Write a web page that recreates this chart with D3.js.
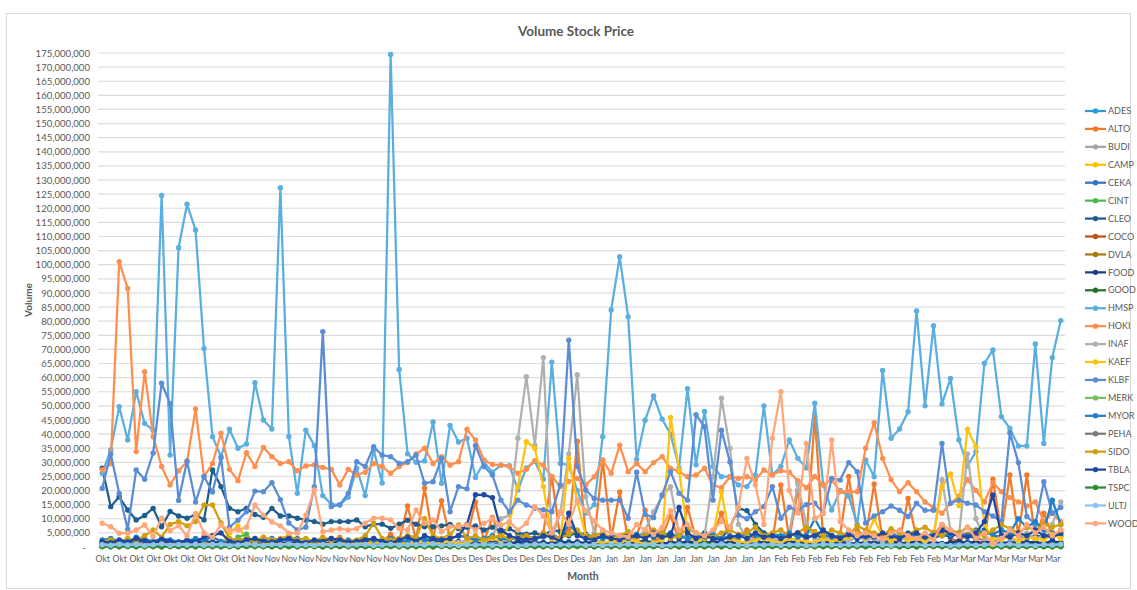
<!DOCTYPE html>
<html>
<head>
<meta charset="utf-8">
<script src="https://cdn.jsdelivr.net/npm/d3@7"></script>
<style>
  body { margin: 0; background: #fff; }
  svg text { font-family: Lato, "Open Sans", sans-serif; fill: #595959; }
</style>
</head>
<body>
<svg id="chart" width="1137" height="590"></svg>
<script>
// volumes below are in millions of shares
const UNIT = 1e6;

const months = ['Okt', 'Nov', 'Des', 'Jan', 'Feb', 'Mar'];
const monthDays = [18, 20, 20, 22, 20, 14];

const tickers = ['ADES','ALTO','BUDI','CAMP','CEKA','CINT','CLEO','COCO','DVLA','FOOD','GOOD','HMSP',
  'HOKI','INAF','KAEF','KLBF','MERK','MYOR','PEHA','SIDO','TBLA','TSPC','ULTJ','WOOD'];
const colors = ['#2e9bda','#f37a2a','#a5a5a5','#ffc000','#3373c4','#4db84e','#1e5e8e','#c0501a','#a67a0c',
  '#1f3e7c','#2a6e2e','#5baee0','#ff8f4e','#b0b0b0','#ffc20e','#5a8dd6','#72c25e','#1f80c8','#7a7a7a',
  '#d1a10d','#1f48a0','#2e8b35','#8cc4ec','#ffa77a'];

const ADES = [1.0,1.5,0.8,1.2,2.0,1.0,1.5,0.9,1.2,1.8, 1.0,1.3,0.9,2.0,1.5,1.0,1.2,1.8,1.0,1.4,
  0.9,1.5,1.2,1.0,1.8,1.2,0.9,1.5,1.1,1.3, 1.0,1.5,2.0,1.2,1.0,1.6,1.3,1.0,1.5,1.2,
  1.8,1.0,1.5,2.0,1.2,1.0,1.6,1.3,1.0,1.5, 1.2,1.8,1.0,1.5,1.3,2.0,1.2,1.0,1.5,1.1,
  1.3,1.0,1.6,1.2,1.8,1.0,1.4,1.2,1.0,1.5, 1.2,1.0,1.8,1.3,1.0,1.5,1.2,1.6,1.0,1.3,
  1.5,1.0,1.8,1.2,1.4,1.0,1.6,1.3,1.1,1.5, 1.0,1.4,1.2,1.8,1.0,1.5,1.3,1.0,1.6,1.2,
  1.4,1.0,1.8,1.2,1.5,1.0,1.3,1.6,1.1,1.4, 1.2,1.5,1.0,1.3];
const ALTO = [1.5,2.0,1.2,0.8,1.5,2.5,1.0,1.8,0.9,1.4, 2.2,1.0,1.6,0.8,1.2,1.9,0.7,1.3,2.4,1.1,
  0.9,1.5,1.2,2.0,0.8,1.4,1.0,2.2,3.5,1.2, 2.0,1.5,3.0,1.8,4.5,2.0,14.5,2.5,20.8,3.0,
  16.4,2.8,4.0,3.5,16.0,2.0,10.5,3.0,2.5,4.0, 3.5,2.0,5.0,24.9,3.0,6.0,37.5,4.0,2.5,30.8,
  3.0,19.5,2.5,4.0,13.0,2.0,3.5,11.3,2.0,14.0, 3.0,2.5,4.0,12.0,2.5,3.0,6.0,2.0,3.5,2.0,
  22.0,3.0,20.0,2.5,46.2,3.0,2.0,4.5,25.0,6.0, 3.5,22.3,2.5,4.0,2.0,17.2,3.0,2.5,4.0,8.0,
  3.0,2.0,4.5,3.5,2.0,24.0,5.0,25.5,4.0,25.5, 3.0,12.0,4.0,6.0];
const BUDI = [0.4,0.6,0.3,0.5,0.8,0.4,0.7,0.5,0.3,0.6, 0.5,0.9,0.4,0.6,0.3,0.7,0.5,0.4,0.8,0.6,
  0.5,0.3,0.7,0.4,0.6,0.5,0.9,0.4,0.3,0.6, 0.8,0.5,0.4,0.7,0.6,0.3,0.5,0.9,0.4,0.6,
  0.7,0.5,1.2,0.8,0.6,1.5,0.9,0.7,1.0,2.5, 1.8,1.2,0.9,1.4,0.8,1.1,2.0,1.3,0.9,0.7,
  1.0,0.8,0.6,1.2,0.9,1.5,0.7,1.1,0.8,0.6, 0.9,1.3,0.7,1.0,0.8,0.6,1.2,0.9,0.7,1.0,
  0.8,0.6,1.1,0.9,0.7,1.4,0.8,0.6,1.0,0.7, 0.9,0.6,1.2,0.8,0.7,1.0,0.6,0.9,0.8,1.3,
  1.0,0.7,1.5,0.9,0.8,1.1,0.7,1.0,0.8,1.2, 0.9,1.4,1.0,1.8];
const CAMP = [0.3,0.2,0.4,0.3,0.5,0.2,0.3,0.6,0.4,0.3, 0.5,0.2,0.4,0.6,0.3,5.0,7.5,3.0,0.8,0.4,
  0.3,0.5,0.2,0.4,0.3,0.6,0.2,0.4,0.3,0.5, 0.4,0.3,0.6,0.2,0.5,0.3,0.4,0.7,0.3,0.5,
  0.4,0.6,0.3,0.5,0.8,0.4,0.6,0.3,0.5,0.4, 0.7,0.5,0.9,0.4,0.6,0.5,0.8,0.4,0.6,0.3,
  0.5,0.7,0.4,0.6,0.3,0.5,0.8,0.4,0.6,0.5, 0.3,0.7,0.4,0.6,0.5,0.8,0.4,0.6,0.3,0.5,
  0.6,0.4,0.7,0.5,0.3,0.6,0.4,0.8,0.5,0.7, 0.4,0.6,0.5,0.9,0.4,0.6,0.7,0.5,0.8,0.6,
  0.5,0.7,0.4,0.9,0.6,0.5,0.8,0.6,0.7,0.5, 0.9,0.6,0.8,0.7];
const CEKA = [0.8,1.2,0.6,0.9,1.5,0.7,1.0,0.8,1.3,0.6, 0.9,1.1,0.7,1.4,0.8,0.6,1.0,1.2,0.7,0.9,
  1.3,0.8,0.6,1.0,0.9,1.2,0.7,0.8,1.1,0.6, 0.9,1.4,0.8,0.7,1.0,1.2,0.6,0.9,1.5,0.8,
  1.0,0.7,1.3,0.9,0.6,1.1,0.8,1.4,0.7,1.0, 0.9,1.2,0.6,0.8,1.3,0.7,1.0,0.9,1.5,0.8,
  0.6,1.1,0.9,0.7,1.2,0.8,1.0,1.4,0.7,0.9, 1.1,0.6,0.8,1.3,0.9,0.7,1.0,1.2,0.8,0.6,
  0.9,1.5,0.7,1.0,0.8,1.2,0.6,0.9,1.3,0.7, 1.0,0.8,1.1,0.6,0.9,1.4,0.8,0.7,1.0,1.2,
  0.7,0.9,1.3,0.8,1.0,0.6,1.1,0.9,1.4,0.7, 1.0,0.8,1.2,0.9];
const CINT = [0.3,0.2,0.4,0.3,0.2,0.5,0.3,0.2,0.4,0.3, 0.2,0.3,0.5,0.2,0.3,0.4,3.5,4.5,0.6,0.3,
  0.2,0.4,0.3,0.2,0.3,0.5,0.2,0.4,0.3,0.2, 0.3,0.4,0.2,0.3,0.5,0.2,0.3,0.4,0.2,0.3,
  0.4,0.3,0.2,0.5,0.3,0.4,0.2,0.3,0.6,0.3, 0.2,0.4,0.3,0.5,0.2,0.3,0.4,0.2,0.3,0.5,
  0.3,0.2,0.4,0.3,0.2,0.5,0.3,0.4,0.2,0.3, 0.5,0.3,0.2,0.4,0.3,0.2,0.3,0.5,0.2,0.4,
  0.3,0.2,0.4,0.3,0.5,0.2,0.3,0.4,0.2,0.3, 0.4,0.2,0.3,0.5,0.3,0.2,0.4,0.3,0.2,0.4,
  0.3,0.5,0.2,0.3,0.4,0.2,0.3,0.5,0.3,0.2, 0.4,0.3,0.2,0.3];
const CLEO = [27.9,14.3,17.8,13.1,9.6,11.2,13.7,7.2,12.6,11.0, 10.2,11.5,9.6,27.3,21.4,13.7,12.5,13.7,11.5,10.5,
  13.7,11.0,11.0,10.2,9.6,9.0,8.1,9.0,9.0,9.0, 9.6,7.2,8.1,8.1,6.6,8.1,9.5,8.1,7.2,7.2,
  7.5,8.0,6.5,7.0,7.5,6.0,7.0,5.5,6.5,5.0, 4.5,5.0,4.0,6.0,5.5,4.0,5.0,4.5,3.5,4.0,
  3.5,4.0,5.0,3.0,4.5,3.5,4.0,5.0,3.0,4.0, 3.5,5.0,4.0,3.0,7.0,13.7,12.9,8.0,5.0,4.0,
  3.5,4.0,5.0,3.0,4.5,3.0,4.0,3.5,5.0,4.0, 3.0,4.5,3.5,4.0,3.0,5.0,3.5,4.0,3.0,4.5,
  3.5,5.0,4.0,3.0,6.0,4.0,3.5,5.0,4.0,3.0, 4.0,3.5,5.0,4.0];
const COCO = [0.5,0.3,0.6,0.4,0.8,0.5,0.3,0.7,0.4,0.6, 0.5,0.8,0.4,0.3,0.6,0.5,0.7,0.4,0.9,0.5,
  0.3,0.6,0.4,0.5,0.7,0.3,0.5,0.8,0.4,0.6, 0.5,0.3,0.7,0.4,0.6,0.5,0.8,0.3,0.5,0.7,
  0.4,0.6,0.5,0.9,0.4,0.6,0.3,0.5,0.7,0.4, 0.6,0.5,0.3,0.8,0.5,0.4,0.7,0.6,0.3,0.5,
  0.8,0.4,0.6,0.5,0.3,0.7,0.4,0.6,0.5,0.9, 0.4,0.6,0.3,0.5,0.7,0.4,0.8,0.5,0.6,0.3,
  0.5,0.7,0.4,0.6,0.5,0.3,0.8,0.4,0.6,0.5, 0.7,0.3,0.5,0.6,0.4,0.8,0.5,0.3,0.6,0.4,
  0.7,0.5,0.6,0.3,0.8,0.4,0.5,0.7,0.4,0.6, 0.5,0.8,0.4,0.6];
const DVLA = [0.2,0.3,0.1,0.2,0.4,0.2,0.3,0.1,0.2,0.3, 0.2,0.1,0.3,0.2,0.4,0.2,0.1,0.3,0.2,0.2,
  0.3,0.1,0.2,0.4,0.2,0.3,0.1,0.2,0.3,0.2, 0.1,0.3,0.2,0.2,0.4,0.1,0.2,0.3,0.2,0.1,
  0.3,0.2,0.4,0.2,0.1,0.3,0.2,0.2,0.3,0.1, 0.2,0.4,0.2,0.3,0.1,0.2,0.3,0.2,0.1,0.3,
  0.2,0.2,0.4,0.1,0.3,0.2,0.2,0.3,0.1,0.2, 0.4,0.2,0.3,0.1,0.2,0.3,0.2,0.1,0.3,0.2,
  0.2,0.4,0.1,0.3,0.2,0.2,0.3,0.1,0.2,0.4, 0.2,0.3,0.1,0.2,0.3,0.2,0.1,0.3,0.2,0.2,
  0.4,0.1,0.3,0.2,0.2,0.3,0.1,0.2,0.4,0.2, 0.3,0.1,0.2,0.3];
const FOOD = [1.5,2.0,1.2,1.8,2.5,1.4,1.0,2.2,1.6,1.3, 1.9,1.1,2.4,1.5,1.8,1.2,2.0,1.4,1.7,2.3,
  1.3,1.6,1.0,2.1,1.5,1.8,1.2,1.4,2.0,1.6, 1.1,1.9,1.4,2.2,1.3,1.7,1.5,1.0,1.8,2.4,
  1.4,1.6,2.0,1.2,1.9,1.5,2.6,1.8,1.3,1.7, 2.1,1.4,1.6,1.1,2.0,1.5,1.8,1.3,2.2,1.6,
  1.4,1.9,1.2,1.7,2.3,1.5,1.0,1.8,1.4,2.0, 1.6,1.3,2.1,1.5,1.8,1.2,1.6,2.4,1.4,1.9,
  1.3,1.7,2.0,1.5,1.2,1.8,1.6,2.2,1.4,1.1, 1.9,1.5,1.7,2.3,1.3,1.6,2.0,1.4,1.8,1.2,
  1.6,2.1,1.5,1.9,1.3,2.5,1.7,1.4,2.0,1.6, 1.8,1.3,2.2,1.5];
const GOOD = [0.3,0.2,0.4,0.3,0.2,0.3,0.5,0.2,0.3,0.4, 0.2,0.3,0.2,0.4,0.3,0.2,0.5,0.3,0.2,0.3,
  0.4,0.2,0.3,0.2,0.3,0.5,0.2,0.3,0.4,0.2, 0.3,0.2,0.4,0.3,0.2,0.3,0.2,0.5,0.3,0.2,
  0.4,0.3,0.2,0.3,0.4,0.2,0.3,0.5,0.2,0.3, 0.4,0.2,0.3,0.2,0.4,0.3,0.5,0.2,0.3,0.4,
  0.2,0.3,0.4,0.6,1.5,0.8,0.4,0.3,0.5,0.4, 0.3,2.0,0.9,0.4,0.3,0.5,0.4,0.3,0.6,0.4,
  0.3,0.5,0.4,0.3,0.6,0.4,0.5,0.3,0.4,0.6, 0.4,0.3,0.5,0.4,0.3,0.6,0.4,0.5,0.3,0.4,
  0.5,0.3,0.4,0.6,0.4,0.3,0.5,0.4,0.6,0.3, 0.5,0.4,0.3,0.5];
const HMSP = [26.1,34.4,49.7,37.9,55.0,43.8,41.4,124.5,32.6,106.0, 121.4,112.3,70.3,39.1,32.0,41.7,35.0,36.5,58.2,45.0,
  41.8,127.3,39.1,19.0,41.4,36.0,18.2,15.2,14.9,17.6, 27.9,18.2,34.4,22.7,174.5,62.9,33.0,30.0,30.5,44.3,
  22.6,43.1,37.2,38.5,24.6,30.0,26.5,29.0,28.8,20.2, 28.0,30.4,24.0,65.5,29.6,29.0,20.0,12.0,15.0,39.1,
  84.0,102.8,81.6,31.0,44.9,53.5,45.3,40.0,28.0,56.1, 29.1,48.0,28.5,24.9,24.9,22.0,21.4,25.5,50.0,25.5,
  28.5,37.9,31.4,28.0,50.9,22.0,13.1,20.0,18.0,8.0, 30.8,24.9,62.5,38.5,41.8,47.9,83.6,50.0,78.4,50.7,
  59.7,37.9,28.7,33.8,65.1,69.8,46.2,42.0,35.8,35.8, 71.9,36.7,67.1,80.2];
const HOKI = [27.3,29.5,101.1,91.6,33.8,62.1,39.1,28.5,22.0,27.0, 30.2,48.9,24.9,29.6,40.3,27.5,23.5,33.4,28.5,35.3,
  32.0,29.6,30.2,27.0,28.7,29.1,28.2,27.5,22.0,27.5, 25.5,26.5,29.6,28.5,26.1,28.5,29.9,33.0,35.0,29.6,
  32.0,29.0,30.2,41.7,37.9,30.8,29.2,29.0,28.5,26.1, 27.5,30.6,29.0,24.9,21.4,23.2,24.3,22.0,24.9,30.6,
  26.1,36.1,26.7,29.6,26.7,29.9,32.0,27.9,26.7,24.9, 25.5,27.9,22.0,21.0,24.9,24.3,24.9,23.7,27.3,25.5,
  27.0,26.5,23.5,21.0,25.0,22.0,23.8,19.6,19.6,19.6, 35.0,44.0,31.4,23.8,19.6,22.8,19.6,16.0,14.0,12.0,
  15.5,18.0,23.8,20.0,16.0,22.8,19.6,17.5,16.0,14.5, 16.0,9.0,12.0,9.0];
const INAF = [0.8,1.2,0.6,1.0,0.9,1.5,0.7,1.1,0.8,1.3, 0.9,0.7,1.2,1.0,0.8,1.4,0.9,1.1,0.7,1.0,
  1.3,0.8,1.0,0.9,1.2,0.8,1.1,0.9,1.0,1.5, 1.2,0.9,1.4,2.0,1.1,0.9,1.3,2.5,1.8,1.2,
  1.5,2.0,1.6,2.4,3.0,2.0,4.0,10.0,11.3,38.5, 60.3,36.1,67.1,3.0,12.0,33.0,61.0,17.8,5.0,3.5,
  2.5,4.0,2.0,3.0,6.0,12.5,18.0,21.4,5.0,3.0, 2.5,4.0,25.0,52.7,35.0,8.0,3.0,2.5,4.0,3.0,
  2.0,5.0,22.3,8.0,3.0,2.5,4.0,3.0,2.0,3.5, 2.5,3.0,2.0,4.0,3.0,2.5,3.0,2.0,3.5,23.8,
  6.0,4.0,33.0,10.0,3.0,2.5,4.0,3.0,2.0,5.0, 3.0,4.0,8.0,16.0];
const KAEF = [0.5,0.4,0.6,0.5,0.8,0.4,0.6,0.5,0.7,0.4, 0.6,0.5,0.8,0.6,1.0,0.5,0.8,1.0,3.0,1.5,
  1.0,0.8,1.2,0.6,0.9,1.5,1.0,0.8,1.2,0.9, 1.5,1.0,2.0,1.2,0.8,1.0,1.5,1.2,2.0,1.0,
  1.5,2.0,1.0,1.5,2.5,1.8,3.0,2.0,8.4,21.4, 37.3,35.0,21.4,3.0,2.0,31.4,16.0,4.0,2.0,1.5,
  2.0,1.5,2.5,2.0,1.0,1.5,2.5,45.9,27.3,5.0, 2.0,3.0,4.0,19.6,3.0,2.0,1.5,2.5,3.0,2.0,
  1.5,3.0,2.5,2.0,1.5,3.0,2.0,2.5,3.5,4.5, 3.0,10.0,3.5,2.0,4.0,2.5,3.0,2.0,4.0,21.4,
  25.9,14.6,41.7,35.5,8.0,3.0,2.5,4.0,2.0,3.5, 3.0,2.5,4.5,3.0];
const KLBF = [20.8,33.0,19.0,6.3,27.3,24.0,33.3,58.0,50.8,16.5, 30.5,15.9,25.0,19.5,31.6,7.0,9.5,12.5,19.8,19.6,
  22.8,16.8,8.5,6.0,7.0,21.4,76.3,14.3,15.0,19.0, 30.2,28.5,35.5,32.5,32.0,29.6,30.2,32.5,22.6,23.1,
  31.4,12.5,21.4,20.6,36.0,28.5,25.5,16.6,12.5,16.6, 14.9,13.7,13.2,12.5,22.0,73.3,28.5,20.2,17.2,16.6,
  16.6,16.6,10.2,26.5,11.6,10.4,18.4,26.7,19.0,16.6, 46.9,42.6,16.6,41.4,30.1,11.3,10.0,12.5,14.3,21.4,
  10.2,14.0,13.1,15.0,15.5,12.0,24.3,23.7,29.9,26.7, 8.5,11.0,12.5,14.5,13.0,10.8,15.5,13.0,13.0,36.7,
  15.5,16.6,15.5,14.9,12.5,11.0,9.0,40.5,29.9,10.8, 8.0,23.1,12.0,14.0];
const MERK = [0.1,0.2,0.1,0.1,0.2,0.1,0.1,0.2,0.1,0.2, 0.1,0.1,0.2,0.1,0.1,0.2,0.1,0.2,0.1,0.1,
  0.2,0.1,0.1,0.2,0.1,0.1,0.2,0.1,0.2,0.1, 0.1,0.2,0.1,0.1,0.2,0.1,0.2,0.1,0.1,0.2,
  0.1,0.1,0.2,0.1,0.2,0.1,0.1,0.2,0.1,0.1, 0.2,0.1,0.2,0.1,0.1,0.2,0.1,0.1,0.2,0.1,
  0.2,0.1,0.1,0.2,0.1,0.1,0.2,0.1,0.2,0.1, 0.1,0.2,0.1,0.1,0.2,0.1,0.2,0.1,0.1,0.2,
  0.1,0.1,0.2,0.1,0.2,0.1,0.1,0.2,0.1,0.1, 0.2,0.1,0.1,0.2,0.1,0.2,0.1,0.1,0.2,0.1,
  0.1,0.2,0.1,0.2,0.1,0.1,0.2,0.1,0.1,0.2, 0.1,0.2,0.1,0.1];
const MYOR = [2.5,3.0,2.0,1.5,3.5,2.8,2.0,3.0,2.5,1.8, 2.2,3.0,2.5,3.5,2.0,1.8,2.5,3.0,2.0,2.5,
  3.0,2.5,2.0,3.0,2.5,1.8,2.2,3.0,2.0,2.5, 2.0,3.0,2.5,2.0,3.0,2.5,2.0,3.5,2.5,3.0,
  2.5,3.0,4.0,3.5,2.5,3.0,4.0,3.0,2.5,3.5, 4.0,3.0,3.5,4.5,3.0,8.0,5.0,3.5,4.0,3.0,
  3.5,4.0,3.0,4.5,3.5,4.0,5.0,3.5,4.0,3.0, 4.0,3.5,4.5,3.0,4.0,3.5,5.0,4.0,3.5,4.5,
  4.0,5.0,3.5,4.0,10.0,4.5,3.5,4.0,5.0,4.0, 3.5,4.5,4.0,5.0,3.5,4.0,4.5,3.5,5.0,4.0,
  4.5,5.0,4.0,6.0,5.0,4.5,6.0,5.0,10.0,7.0, 9.0,6.0,16.6,8.0];
const PEHA = [0.3,0.5,0.2,0.4,0.3,0.6,0.4,0.3,0.5,0.2, 0.4,0.3,0.6,0.2,0.4,0.5,1.5,2.5,1.8,0.6,
  0.4,0.3,0.5,0.2,0.4,0.6,0.3,0.5,0.4,0.2, 0.5,0.3,0.4,0.6,0.3,0.5,0.2,0.4,0.3,0.6,
  0.4,0.2,0.5,0.3,0.4,0.6,0.3,0.5,0.2,0.4, 0.3,0.5,0.4,0.2,0.6,0.3,0.5,0.4,0.3,0.5,
  0.2,0.4,0.6,0.3,0.5,0.4,0.2,0.3,0.5,0.4, 0.6,0.3,0.4,0.2,0.5,0.3,0.4,0.6,0.3,0.5,
  0.4,0.2,0.5,0.3,0.6,0.4,0.3,0.5,0.2,0.4, 0.3,0.6,0.4,0.5,0.2,0.3,0.5,0.4,0.6,0.3,
  0.4,0.2,0.5,0.3,0.4,0.6,0.3,0.5,0.4,0.2, 0.5,0.3,0.4,0.6];
const SIDO = [2.0,2.5,1.8,3.0,2.2,4.0,6.0,3.5,8.0,9.0, 7.5,9.0,14.9,14.9,8.5,3.0,2.5,3.0,2.0,3.5,
  2.5,3.0,4.0,2.5,3.0,2.0,3.5,2.5,3.0,2.0, 2.5,4.0,8.4,3.0,2.5,3.0,4.0,3.5,10.0,4.0,
  3.0,4.5,7.8,3.0,4.0,2.5,3.5,4.0,3.0,3.5, 4.0,3.0,5.0,4.0,3.0,4.5,6.0,3.5,4.0,5.0,
  3.0,4.0,5.5,3.5,4.0,6.0,5.0,3.0,4.0,6.5, 5.0,4.0,3.5,5.0,6.0,4.5,5.0,7.0,4.0,5.0,
  6.0,4.0,5.0,7.0,5.5,4.0,6.0,5.0,4.0,7.5, 6.0,5.0,4.0,6.5,5.0,4.5,6.0,7.0,5.0,4.0,
  6.0,5.0,7.0,5.5,4.0,6.0,8.0,6.5,5.0,7.0, 6.0,8.0,7.0,8.0];
const TBLA = [2.0,1.5,2.5,1.8,3.0,2.2,1.5,2.8,2.0,1.6, 2.5,1.8,3.5,4.0,5.0,2.0,1.5,2.5,3.0,2.0,
  1.8,2.5,3.0,2.0,1.5,2.5,2.0,3.0,2.5,1.8, 2.0,2.5,3.0,2.0,1.5,2.5,3.5,2.0,4.0,3.0,
  2.5,3.0,4.0,8.0,18.5,18.5,17.5,6.0,4.0,3.0, 2.5,3.0,4.0,3.5,2.0,12.0,4.0,3.0,2.5,4.0,
  3.0,2.5,3.5,4.0,3.0,5.0,3.5,4.0,14.0,5.0, 3.0,4.0,3.0,2.5,3.5,4.0,3.0,5.0,3.5,4.0,
  3.0,4.0,5.0,3.5,4.0,6.0,4.0,3.0,4.5,3.0, 4.0,3.5,5.0,4.0,3.0,4.5,5.0,3.5,4.0,6.0,
  5.0,4.0,3.5,5.0,9.0,18.4,4.0,3.5,5.0,4.0, 6.0,4.0,3.5,5.0];
const TSPC = [0.2,0.1,0.2,0.3,0.1,0.2,0.2,0.1,0.3,0.2, 0.1,0.2,0.2,0.3,0.1,0.2,0.1,0.2,0.3,0.2,
  0.1,0.2,0.2,0.1,0.3,0.2,0.1,0.2,0.2,0.3, 0.1,0.2,0.1,0.2,0.3,0.2,0.1,0.2,0.2,0.1,
  0.3,0.2,0.1,0.2,0.2,0.3,0.1,0.2,0.1,0.2, 0.3,0.2,0.1,0.2,0.2,0.1,0.3,0.2,0.1,0.2,
  0.2,0.3,0.1,0.2,0.1,0.2,0.3,0.2,0.1,0.2, 0.2,0.1,0.3,0.2,0.1,0.2,0.2,0.3,0.1,0.2,
  0.1,0.2,0.3,0.2,0.1,0.2,0.2,0.1,0.3,0.2, 0.1,0.2,0.2,0.3,0.1,0.2,0.1,0.2,0.3,0.2,
  0.1,0.2,0.2,0.1,0.3,0.2,0.1,0.2,0.2,0.3, 0.1,0.2,0.1,0.2];
const ULTJ = [0.8,0.6,1.0,0.7,0.9,0.5,0.8,1.1,0.6,0.9, 0.7,1.0,0.6,0.8,0.9,0.5,0.7,1.0,0.8,0.6,
  0.9,0.7,1.1,0.6,0.8,0.5,0.9,0.7,1.0,0.6, 0.8,0.9,0.5,0.7,1.0,0.6,0.8,0.9,0.7,1.1,
  0.6,0.8,0.5,0.9,0.7,1.0,0.6,0.8,0.9,0.5, 0.7,1.0,0.8,0.6,0.9,0.7,1.1,0.6,0.8,0.5,
  0.9,0.7,1.0,0.6,0.8,0.9,0.5,0.7,1.0,0.6, 0.8,0.9,0.7,1.1,0.6,0.8,0.5,0.9,0.7,1.0,
  0.6,0.8,0.9,0.5,0.7,1.0,0.8,0.6,0.9,0.7, 1.1,0.6,0.8,0.5,0.9,0.7,1.0,0.6,0.8,0.9,
  0.5,0.7,1.0,0.6,0.8,0.9,0.7,1.1,0.6,0.8, 0.5,0.9,0.7,1.0];
const WOOD = [8.4,7.2,4.9,4.9,6.0,7.8,3.7,10.2,5.8,7.5, 4.0,11.9,4.9,3.5,7.8,6.0,6.0,7.0,14.9,11.3,
  8.9,7.5,4.9,4.9,11.3,20.2,5.4,6.0,6.5,6.0, 6.5,8.4,10.2,10.2,9.6,6.5,6.0,13.1,8.4,9.6,
  5.4,7.2,7.2,7.8,6.0,8.4,10.0,7.8,9.0,6.0, 8.4,14.3,11.0,5.0,12.5,8.0,16.6,12.9,9.2,6.0,
  5.0,4.0,3.5,8.0,6.0,4.5,7.0,12.9,6.0,8.0, 5.0,4.0,6.0,9.0,7.0,14.0,31.4,22.0,8.0,38.5,
  55.0,20.0,12.0,36.7,10.0,12.0,37.9,9.0,6.0,4.0, 5.0,4.0,3.0,5.0,6.0,4.0,3.0,5.0,2.5,8.0,
  6.0,4.0,7.0,3.0,5.0,1.0,3.0,6.0,4.0,8.0, 5.0,7.0,4.0,6.0];

const seriesValues = [ADES, ALTO, BUDI, CAMP, CEKA, CINT, CLEO, COCO, DVLA, FOOD, GOOD, HMSP,
  HOKI, INAF, KAEF, KLBF, MERK, MYOR, PEHA, SIDO, TBLA, TSPC, ULTJ, WOOD];

const plot = {left: 98, right: 1065, top: 53, bottom: 547};
const svg = d3.select('#chart');

// chart frame
svg.append('rect')
  .attr('x', 6.5).attr('y', 13.5).attr('width', 1124).attr('height', 575)
  .attr('fill', '#fff').attr('stroke', '#d9d9d9');

// one month label per trading day
const dayLabels = months.flatMap((m, k) => d3.range(monthDays[k]).map(() => m));

const x = d3.scalePoint()
  .domain(d3.range(dayLabels.length))
  .range([plot.left, plot.right])
  .padding(0.5);
const y = d3.scaleLinear().domain([0, 175 * UNIT]).range([plot.bottom, plot.top]);

const yTicks = d3.range(0, 175 * UNIT + 1, 5 * UNIT);

svg.append('g').selectAll('line').data(yTicks).join('line')
  .attr('x1', plot.left).attr('x2', plot.right)
  .attr('y1', d => y(d)).attr('y2', d => y(d))
  .attr('stroke', '#dcdcdc').attr('stroke-width', 1.2);

const yAxis = svg.append('g')
  .attr('transform', `translate(${plot.left},0)`)
  .call(d3.axisLeft(y).tickValues(yTicks).tickSize(0).tickPadding(8)
    .tickFormat(d => d === 0 ? '-' : d3.format(',')(d)));
yAxis.select('.domain').remove();
yAxis.selectAll('text').attr('font-size', 9.6).style('fill', '#595959');
yAxis.selectAll('.tick').filter(d => d === 0).select('text').attr('dx', -4);

const xAxis = svg.append('g')
  .attr('transform', `translate(0,${plot.bottom})`)
  .call(d3.axisBottom(x)
    .tickValues(x.domain().filter(i => i % 2 === 0))
    .tickSize(0).tickSizeOuter(0).tickPadding(9)
    .tickFormat(i => dayLabels[i]));
xAxis.select('.domain').attr('stroke', '#d9d9d9');
xAxis.selectAll('text').attr('font-size', 8.6).style('fill', '#595959');

// series, legend order so the last ones sit on top
const line = d3.line().x((d, i) => x(i)).y(d => y(d * UNIT));

const series = svg.append('g').selectAll('g').data(tickers).join('g');
series.append('path')
  .attr('d', (t, k) => line(seriesValues[k]))
  .attr('fill', 'none')
  .attr('stroke', (t, k) => colors[k])
  .attr('stroke-width', 2.25)
  .attr('stroke-linejoin', 'round');
series.selectAll('circle')
  .data((t, k) => seriesValues[k].map(v => ({v, k})))
  .join('circle')
  .attr('cx', (d, i) => x(i))
  .attr('cy', d => y(d.v * UNIT))
  .attr('r', 2.7)
  .attr('fill', d => colors[d.k]);

// legend
const legend = svg.append('g').selectAll('g').data(tickers).join('g')
  .attr('transform', (t, k) => `translate(1085,${111 + k * 17.93})`);
legend.append('line')
  .attr('x1', 0).attr('x2', 21)
  .attr('stroke', (t, k) => colors[k]).attr('stroke-width', 2.25);
legend.append('circle')
  .attr('cx', 10.5).attr('r', 2.7)
  .attr('fill', (t, k) => colors[k]);
legend.append('text')
  .attr('x', 23).attr('dy', '0.35em')
  .attr('font-size', 9)
  .text(t => t);

// titles
svg.append('text')
  .attr('x', 576).attr('y', 31).attr('dy', '0.35em')
  .attr('text-anchor', 'middle')
  .attr('font-size', 13.5).attr('font-weight', 'bold')
  .text('Volume Stock Price');

svg.append('text')
  .attr('transform', 'translate(28,300) rotate(-90)')
  .attr('dy', '0.35em')
  .attr('text-anchor', 'middle')
  .attr('font-size', 10).attr('font-weight', 'bold')
  .text('Volume');

svg.append('text')
  .attr('x', 583).attr('y', 576).attr('dy', '0.35em')
  .attr('text-anchor', 'middle')
  .attr('font-size', 10.5).attr('font-weight', 'bold')
  .text('Month');
</script>
</body>
</html>
